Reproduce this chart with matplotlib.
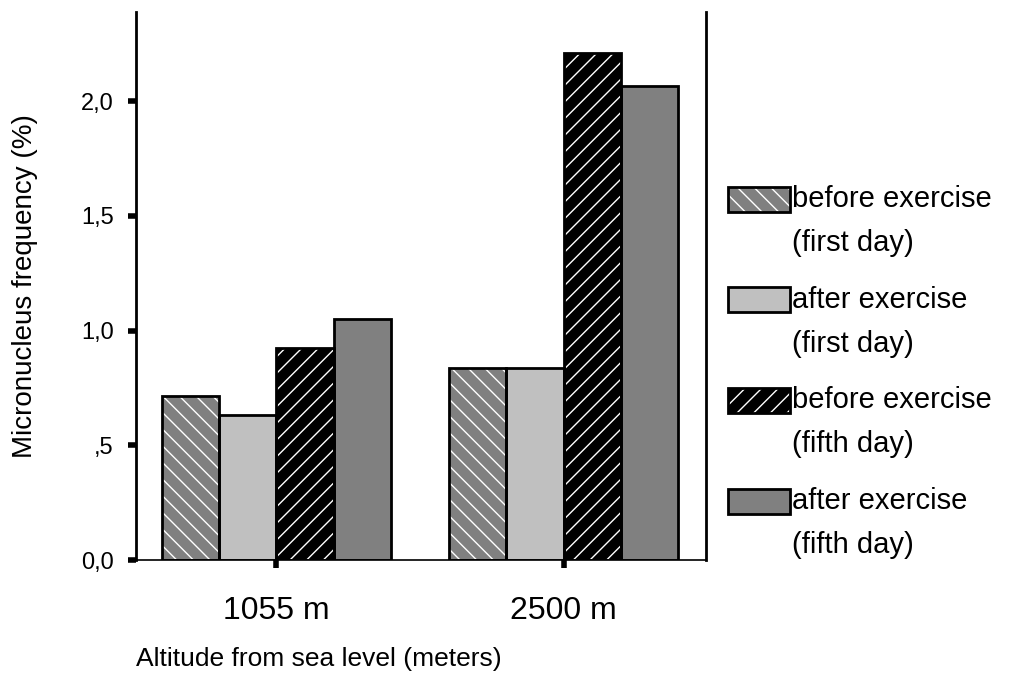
import matplotlib
matplotlib.use("Agg")
import matplotlib.pyplot as plt
from matplotlib.patches import Rectangle
import numpy as np

# data
altitudes = ["1055 m", "2500 m"]
series_names = ["before exercise", "after exercise", "before exercise", "after exercise"]
series_days = ["(first day)", "(first day)", "(fifth day)", "(fifth day)"]
before_first = [0.715, 0.835]
after_first = [0.63, 0.835]
before_fifth = [0.925, 2.21]
after_fifth = [1.05, 2.065]
yticks = [0.0, 0.5, 1.0, 1.5, 2.0]
ytick_labels = ["0,0", ",5", "1,0", "1,5", "2,0"]

values = [before_first, after_first, before_fifth, after_fifth]
fills = ["#808080", "#c0c0c0", "#000000", "#808080"]
hatches = ["\\\\", None, "//", None]

plt.rcParams["font.family"] = ["Liberation Sans", "DejaVu Sans"]
plt.rcParams["hatch.linewidth"] = 1.0

fig = plt.figure(figsize=(10.21, 6.76), dpi=100)
ax = fig.add_axes([136 / 1021, 1 - 560 / 676, 570 / 1021, 548 / 676])

x = np.arange(len(altitudes))
width = 0.2
offsets = [-0.3, -0.1, 0.1, 0.3]
for vals, fc, h, off in zip(values, fills, hatches, offsets):
    # hatch in white first, then black outline on top
    ax.bar(x + off, vals, width, color=fc, edgecolor="white" if h else fc,
           hatch=h, linewidth=0, zorder=2)
    ax.bar(x + off, vals, width, fill=False, edgecolor="black",
           linewidth=2, zorder=3)

ax.set_xlim(-0.4895, 1.4965)
ax.set_ylim(0, 2.388)
ax.set_xticks(x)
ax.set_xticklabels(altitudes, fontsize=23)
ax.set_yticks(yticks)
ax.set_yticklabels(ytick_labels, fontsize=17)
ax.tick_params(axis="y", direction="out", length=6, width=4, pad=10)
ax.tick_params(axis="x", direction="out", length=6, width=4, pad=20)

ax.spines["top"].set_visible(False)
for s in ["left", "right", "bottom"]:
    ax.spines[s].set_linewidth(2)
ax.spines["bottom"].set_linewidth(1.2)

ax.set_ylabel("Micronucleus frequency (%)", fontsize=20)
ax.yaxis.set_label_coords(-0.172, 0.5)
ax.set_xlabel("Altitude from sea level (meters)", fontsize=19, loc="left", labelpad=15)

# legend drawn by hand, two lines per entry
W, H = 1021, 676
for i, (name, day, fc, h) in enumerate(zip(series_names, series_days, fills, hatches)):
    yc = 199 + i * 100.7
    fig.patches.append(Rectangle((728 / W, 1 - (yc + 12.5) / H), 62 / W, 25 / H,
                                 transform=fig.transFigure, facecolor=fc,
                                 edgecolor="white" if h else fc, hatch=h, linewidth=0))
    fig.patches.append(Rectangle((728 / W, 1 - (yc + 12.5) / H), 62 / W, 25 / H,
                                 transform=fig.transFigure, fill=False,
                                 edgecolor="black", linewidth=2))
    fig.text(792 / W, 1 - yc / H, name, fontsize=21, va="center", ha="left")
    fig.text(792 / W, 1 - (yc + 44) / H, day, fontsize=21, va="center", ha="left")

fig.savefig("out.png", dpi=100)
